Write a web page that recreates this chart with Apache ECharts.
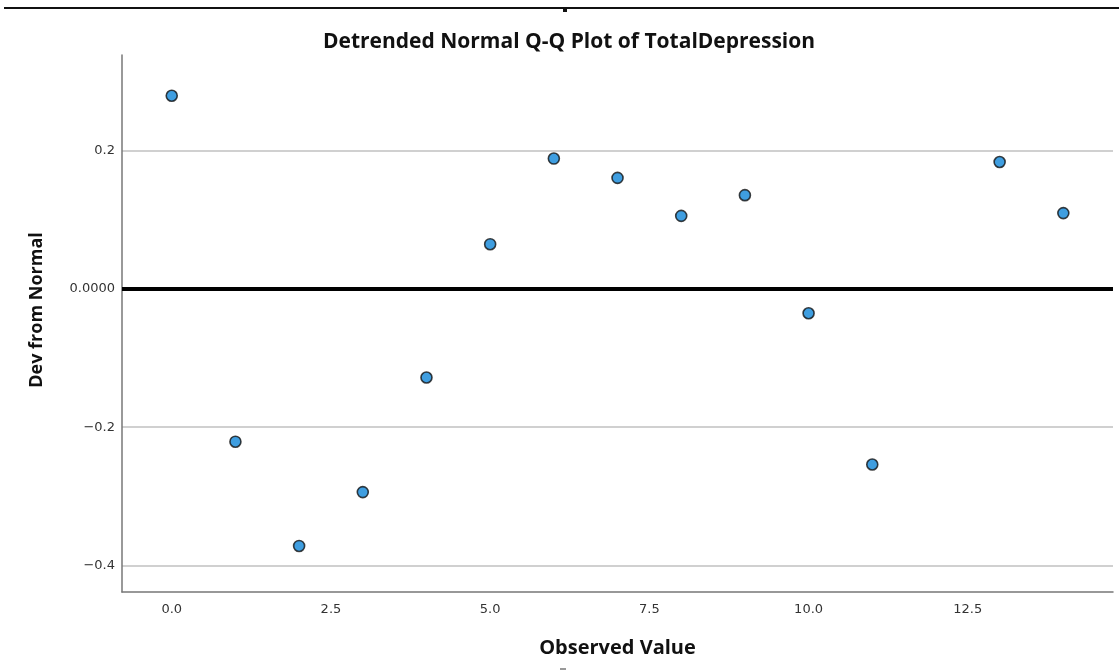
<!DOCTYPE html>
<html>
<head>
<meta charset="utf-8">
<script src="https://cdn.jsdelivr.net/npm/echarts@6/dist/echarts.min.js"></script>
<style>
html,body{margin:0;padding:0;background:#fff;}
#chart{width:1119px;height:671px;}
</style>
</head>
<body>
<div id="chart"></div>
<script>
// Observed values (x) and deviation from normal (y)
const observedValues = [0, 1, 2, 3, 4, 5, 6, 7, 8, 9, 10, 11, 13, 14];
const devFromNormal = [0.280, -0.221, -0.372, -0.294, -0.128, 0.065, 0.189, 0.161, 0.106, 0.136, -0.035, -0.254, 0.184, 0.110];
const xTickValues = [0, 2.5, 5, 7.5, 10, 12.5];
const xTickLabels = ['0.0', '2.5', '5.0', '7.5', '10.0', '12.5'];
const yTickValues = [-0.4, -0.2, 0, 0.2];
const yTickLabels = ['\u22120.4', '\u22120.2', '0.0000', '0.2'];

const points = observedValues.map((v, i) => [v, devFromNormal[i]]);
const titleFont = 'Open Sans, sans-serif';

function labelFor(values, labels) {
  return function (v) {
    for (let i = 0; i < values.length; i++) {
      if (Math.abs(values[i] - v) < 1e-6) return labels[i];
    }
    return '';
  };
}

const chart = echarts.init(document.getElementById('chart'));
chart.setOption({
  animation: false,
  backgroundColor: '#ffffff',
  title: {
    text: 'Detrended Normal Q-Q Plot of TotalDepression',
    left: 318,
    top: 27,
    textStyle: { fontFamily: titleFont, fontWeight: 'bold', fontSize: 21, color: '#111' }
  },
  graphic: [
    { type: 'line', shape: { x1: 4, y1: 8, x2: 1119, y2: 8 }, style: { stroke: '#111', lineWidth: 2 } },
    { type: 'rect', shape: { x: 563, y: 8, width: 4, height: 4 }, style: { fill: '#111' } },
    { type: 'rect', shape: { x: 560, y: 668, width: 6, height: 2 }, style: { fill: '#999' } }
  ],
  grid: { left: 122, right: 6, top: 55, bottom: 79 },
  xAxis: {
    type: 'value',
    min: -0.781,
    max: 14.78,
    name: 'Observed Value',
    nameLocation: 'middle',
    nameGap: 46,
    nameTextStyle: { fontFamily: titleFont, fontWeight: 'bold', fontSize: 20, color: '#111' },
    axisLine: { show: true, onZero: false, lineStyle: { color: '#777', width: 1.5 } },
    axisTick: { show: false, customValues: xTickValues },
    splitLine: { show: false },
    axisLabel: {
      customValues: xTickValues,
      margin: 11,
      fontFamily: 'DejaVu Sans', fontSize: 13, color: '#333',
      formatter: labelFor(xTickValues, xTickLabels)
    }
  },
  yAxis: {
    type: 'value',
    min: -0.4387,
    max: 0.339,
    name: 'Dev from Normal',
    nameLocation: 'middle',
    nameGap: 76,
    nameRotate: 90,
    nameTextStyle: { fontFamily: titleFont, fontWeight: 'bold', fontSize: 18, color: '#111', padding: [0, 0, 0, 27] },
    axisLine: { show: true, onZero: false, lineStyle: { color: '#777', width: 1.5 } },
    axisTick: { show: false, customValues: yTickValues },
    splitLine: { show: true, lineStyle: { color: '#d0d0d0', width: 2 } },
    axisLabel: {
      customValues: yTickValues,
      margin: 7,
      fontFamily: 'DejaVu Sans', fontSize: 13, color: '#333',
      formatter: labelFor(yTickValues, yTickLabels)
    }
  },
  series: [{
    type: 'scatter',
    data: points,
    symbol: 'circle',
    symbolSize: 11,
    itemStyle: { color: '#0f86d8', borderColor: '#111', borderWidth: 1.6 },
    markLine: {
      silent: true,
      symbol: 'none',
      label: { show: false },
      lineStyle: { color: '#000', width: 4, type: 'solid' },
      data: [{ yAxis: 0 }]
    },
    z: 3
  }]
});
</script>
</body>
</html>
